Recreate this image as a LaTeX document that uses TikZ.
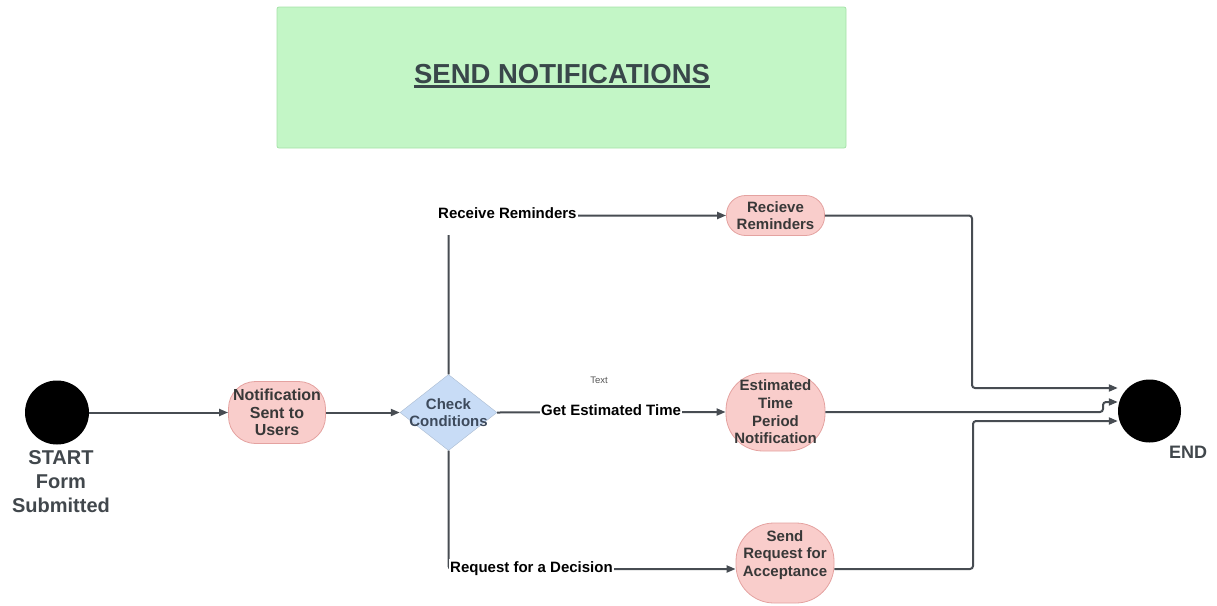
\documentclass[tikz,border=0pt]{standalone}
\usepackage{fontspec}
\setmainfont{Liberation Sans}
\usetikzlibrary{shapes.geometric,arrows.meta}

\definecolor{linegray}{HTML}{474C52}
\definecolor{pinkfill}{HTML}{F9CDCB}
\definecolor{pinkline}{HTML}{E4A2A0}
\definecolor{bluefill}{HTML}{C8DCF6}
\definecolor{greenfill}{HTML}{C3F6C6}
\definecolor{greenline}{HTML}{A5E2A8}
\definecolor{inktext}{HTML}{383838}
\definecolor{slatetext}{HTML}{3D4A5C}
\definecolor{headtext}{HTML}{39474A}
\definecolor{termtext}{HTML}{41474C}
\definecolor{softgray}{HTML}{555555}

\begin{document}
\begin{tikzpicture}[x=1pt,y=-1pt,
  conn/.style={draw=linegray, line width=2pt, rounded corners=3pt,
    -{Triangle[length=9pt,width=7pt]}},
  statebox/.style={draw=pinkline, fill=pinkfill, line width=0.8pt, inner sep=0pt},
  statetext/.style={align=center, text=inktext, inner sep=0pt,
    font=\fontsize{15}{17.7}\selectfont\bfseries},
  decision/.style={diamond, fill=bluefill, draw=bluefill!85!black, line width=0.4pt,
    minimum width=97pt, minimum height=76pt, inner sep=0pt},
  decisiontext/.style={align=center, text=slatetext, inner sep=0pt,
    font=\fontsize{15}{17}\selectfont\bfseries},
  terminal/.style={circle, fill=black, inner sep=0pt},
  termlabel/.style={align=center, text=termtext, inner sep=0pt,
    font=\fontsize{20}{24}\selectfont\bfseries},
  elabel/.style={fill=white, text=black, inner xsep=1pt, inner ysep=2pt,
    font=\fontsize{15}{18}\selectfont\bfseries},
]
\useasboundingbox (0,0) rectangle (1217,605);

% heading banner
\node[draw=greenline, fill=greenfill, line width=0.8pt, rounded corners=2pt,
      minimum width=569pt, minimum height=141pt] (banner) at (561.5,77.5) {};
\node[inner sep=0pt, text=headtext, anchor=base,
      font=\fontsize{27.5}{30}\selectfont\bfseries] (heading) at (562,83) {SEND NOTIFICATIONS};
\draw[headtext, line width=2.6pt] ([yshift=-3.5pt]heading.base west) -- ([yshift=-3.5pt]heading.base east);

% start and end
\node[terminal, minimum size=64pt] (startc) at (57,412.5) {};
\node[termlabel, anchor=north] (startlbl) at (61,450) {START\\Form\\Submitted};
\node[terminal, minimum size=63pt] (endc) at (1149.5,411) {};
\node[termlabel, anchor=base, font=\fontsize{18}{22}\selectfont\bfseries] (endlbl) at (1188,458) {END};

% process states
\node[statebox, rounded corners=27pt, minimum width=97pt, minimum height=62pt,
      label={[statetext, font=\fontsize{16}{17.5}\selectfont\bfseries]center:{Notification\\Sent to\\Users}}] (note) at (277,412.5) {};
\node[decision, label={[decisiontext]center:{Check\\Conditions}}] (cc) at (448.5,412.5) {};
\node[statebox, rounded corners=19pt, minimum width=98pt, minimum height=40pt,
      label={[statetext]center:{Recieve\\Reminders}}] (rr) at (775.5,215.5) {};
\node[statebox, rounded corners=37pt, minimum width=99pt, minimum height=78pt,
      label={[statetext]center:{Estimated\\Time\\Period\\Notification}}] (etp) at (775.5,412) {};
\node[statebox, rounded corners=38pt, minimum width=98pt, minimum height=80pt,
      label={[statetext, yshift=8pt]center:{Send\\Request for\\Acceptance}}] (sra) at (785,563) {};

% connectors
\draw[conn] (startc.east) -- (note.west);
\draw[conn] (note.east) -- (cc.west);
\draw[conn] (cc.north) |- (rr.west);
\draw[conn] (cc.east) -- (etp.west);
\draw[conn] (cc.south) |- ([yshift=-6pt]sra.west);
\draw[conn] (rr.east) -- (972,215.5) -- (972,388) -- ([yshift=23pt]endc.west);
\draw[conn] (etp.east) -- (1103,412) -- (1103,402) -- ([yshift=9pt]endc.west);
\draw[conn] ([yshift=-6pt]sra.east) -- (973,569) -- (973,421) -- ([yshift=-10pt]endc.west);

% connector labels
\node[elabel, anchor=base west, inner ysep=17pt] (lrem) at (437,218) {Receive Reminders};
\node[elabel, anchor=base west] (ltime) at (540,415) {Get Estimated Time};
\node[elabel, anchor=base west] (ldec) at (449,572) {Request for a Decision};
\node[inner sep=0pt, text=softgray, font=\fontsize{9.5}{11}\selectfont] (stray) at (599,380) {Text};
\end{tikzpicture}
\end{document}
